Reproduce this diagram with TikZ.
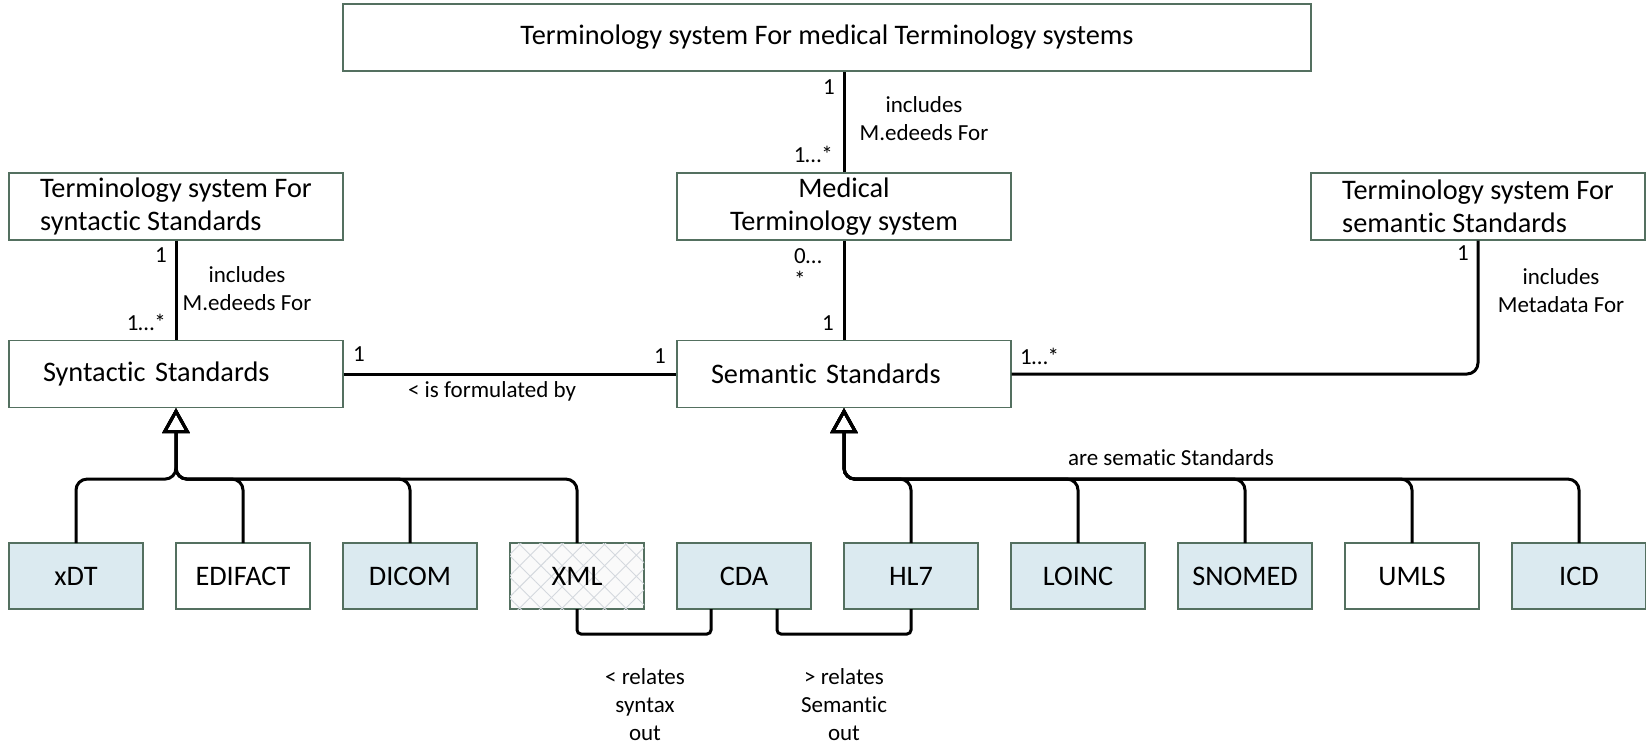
\documentclass[tikz,border=0pt]{standalone}
\usepackage{fontspec}
\setmainfont{Carlito}[RawFeature={-liga;-clig;-dlig;-calt}]
\usetikzlibrary{arrows.meta,positioning,patterns.meta}

\definecolor{boxline}{RGB}{84,112,96}
\definecolor{leafblue}{RGB}{219,234,240}
\definecolor{hatchgray}{RGB}{212,216,222}

\begin{document}
\begin{tikzpicture}[
  x=1pt, y=-1pt,
  node distance=33pt and 33pt,
  cls/.style={draw=boxline, line width=1.2pt, align=center, minimum width=334pt, minimum height=67pt, inner sep=0pt, font=\fontsize{28.3}{33}\selectfont},
  std/.style={cls, align=left, text width=266pt, inner xsep=34pt},
  leaf/.style={draw=boxline, line width=1.2pt, outer sep=0pt, minimum width=134pt, minimum height=66pt, inner sep=0pt, fill=leafblue, font=\fontsize{28.3}{33}\selectfont},
  plainleaf/.style={leaf, fill=white},
  hatchleaf/.style={leaf, fill=white!96!gray,
    postaction={pattern={Lines[angle=45, distance=15pt, line width=0.9pt]}, pattern color=hatchgray},
    postaction={pattern={Lines[angle=-45, distance=15pt, line width=0.9pt]}, pattern color=hatchgray}},
  tag/.style={inner sep=0pt, align=center, font=\fontsize{23}{28}\selectfont},
  link/.style={line width=3pt},
  gen/.style={link, rounded corners=11pt, -{Triangle[open, length=25pt, width=27pt]}}
]
\useasboundingbox (0,0) rectangle (1646,746);

\node[cls, minimum width=968pt] (tops) at (827,37.5) {Terminology system For medical Terminology systems};
\node[cls, align=left] (tsyn) at (176,206.5) {Terminology system For\\syntactic Standards};
\node[cls] (medts) at (844,206.5) {Medical\\Terminology system};
\node[cls, align=left] (tsem) at (1478,206.5) {Terminology system For\\semantic Standards};

\node[std] (synstd) at (176,374) {Syntactic Standards};
\node[std] (semstd) at (844,374) {Semantic Standards};

\node[leaf] (xdt) at (76,576) {xDT};
\node[plainleaf, right=of xdt] (edifact) {EDIFACT};
\node[leaf, right=of edifact] (dicom) {DICOM};
\node[hatchleaf, right=of dicom] (xml) {XML};
\node[leaf, right=of xml] (cda) {CDA};
\node[leaf, right=of cda] (hl7) {HL7};
\node[leaf, right=of hl7] (loinc) {LOINC};
\node[leaf, right=of loinc] (snomed) {SNOMED};
\node[plainleaf, right=of snomed] (umls) {UMLS};
\node[leaf, right=of umls] (icd) {ICD};

% associations
\draw[link] (medts.north) -- (medts.north |- tops.south);
\draw[link] (tsyn) -- (synstd);
\draw[link] (medts) -- (semstd);
\draw[link] (synstd) -- (semstd);
\draw[link, rounded corners=11pt] (semstd.east) -| (tsem.south);
\draw[link, rounded corners=4pt] (xml.south) |- ([xshift=-33pt, yshift=-25pt]cda.south) -- ([xshift=-33pt]cda.south);
\draw[link, rounded corners=4pt] ([xshift=33pt]cda.south) |- ([yshift=-25pt]hl7.south) -- (hl7.south);

% generalisations
\draw[gen] (xdt.north) |- ([yshift=-71pt]synstd.south) -- (synstd.south);
\draw[gen] (edifact.north) |- ([yshift=-71pt]synstd.south) -- (synstd.south);
\draw[gen] (dicom.north) |- ([yshift=-71pt]synstd.south) -- (synstd.south);
\draw[gen] (xml.north) |- ([yshift=-71pt]synstd.south) -- (synstd.south);
\draw[gen] (hl7.north) |- ([yshift=-71pt]semstd.south) -- (semstd.south);
\draw[gen] (loinc.north) |- ([yshift=-71pt]semstd.south) -- (semstd.south);
\draw[gen] (snomed.north) |- ([yshift=-71pt]semstd.south) -- (semstd.south);
\draw[gen] (umls.north) |- ([yshift=-71pt]semstd.south) -- (semstd.south);
\draw[gen] (icd.north) |- ([yshift=-71pt]semstd.south) -- (semstd.south);

% multiplicities and roles
\node[tag, anchor=east] (topone) at (835,87) {1};
\node[tag, anchor=east] (topmany) at (833,154) {1…*};
\node[tag] (topincl) at (924,119) {includes\\M.edeeds For};
\node[tag, anchor=east] (synone) at (167,255) {1};
\node[tag, anchor=east] (synmany) at (166,322) {1…*};
\node[tag] (synincl) at (247,289) {includes\\M.edeeds For};
\node[tag, anchor=west, align=left, font=\fontsize{23}{24}\selectfont] (medmany) at (794,268) {0…\\*};
\node[tag, anchor=east] (medone) at (834,323) {1};
\node[tag, anchor=west] (formone) at (353,354) {1};
\node[tag, anchor=east] (formtwo) at (666,356) {1};
\node[tag] (formlbl) at (492,391) {< is formulated by};
\node[tag, anchor=west] (semmany) at (1020,356) {1…*};
\node[tag, anchor=east] (semone) at (1469,253) {1};
\node[tag] (semincl) at (1561,291) {includes\\Metadata For};
\node[tag] (arelbl) at (1171,458) {are sematic Standards};
\node[tag] (synrel) at (645,705) {< relates\\syntax\\out};
\node[tag] (semrel) at (844,705) {> relates\\Semantic\\out};
\end{tikzpicture}
\end{document}
